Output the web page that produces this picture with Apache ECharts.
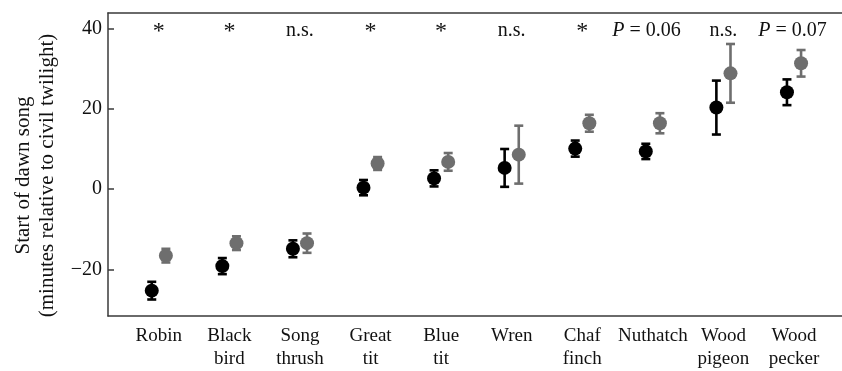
<!DOCTYPE html>
<html>
<head>
<meta charset="utf-8">
<script src="https://cdn.jsdelivr.net/npm/echarts@6/dist/echarts.min.js"></script>
<style>
html,body{margin:0;padding:0;background:#fff;}
#chart{width:842px;height:371px;}
</style>
</head>
<body>
<div id="chart"></div>
<script>
const categories = ['Robin','Black\nbird','Song\nthrush','Great\ntit','Blue\ntit','Wren','Chaf\nfinch','Nuthatch','Wood\npigeon','Wood\npecker'];
const blackMean = [-25.2,-19.1,-14.8,0.4,2.7,5.3,10.1,9.4,20.3,24.1];
const blackErr  = [2.2,2.0,2.1,1.9,2.0,4.7,2.0,1.9,6.7,3.2];
const grayMean  = [-16.5,-13.4,-13.4,6.4,6.8,8.6,16.4,16.4,28.8,31.3];
const grayErr   = [1.7,1.7,2.4,1.6,2.2,7.2,2.1,2.5,7.3,3.3];
const sigLabels = ['*','*','n.s.','*','*','n.s.','*','P = 0.06','n.s.','P = 0.07'];
const sigShift  = [0,0,0,0,0,0,0,-0.09,0,-0.02];
const yTicks = [-20,0,20,40];
const annotLevel = 37;

const FONT = '"Liberation Serif","Times New Roman",serif';
const offset = 0.1;

function errItems(mean, err, dx){
  return mean.map((m,i)=>[i+dx, m, m-err[i], m+err[i]]);
}
function errRender(color){
  return function(params, api){
    const x = api.value(0);
    const lo = api.coord([x, api.value(2)]);
    const hi = api.coord([x, api.value(3)]);
    const hw = 4.5;
    const st = {stroke: color, lineWidth: 2.6};
    return {type:'group', children:[
      {type:'line', shape:{x1:lo[0],y1:lo[1],x2:hi[0],y2:hi[1]}, style:st},
      {type:'line', shape:{x1:lo[0]-hw,y1:lo[1],x2:lo[0]+hw,y2:lo[1]}, style:st},
      {type:'line', shape:{x1:hi[0]-hw,y1:hi[1],x2:hi[0]+hw,y2:hi[1]}, style:st}
    ]};
  };
}

const chart = echarts.init(document.getElementById('chart'), null, {renderer:'canvas'});
const axisLineStyle = {color:'#3a3a3a', width:1.5};
chart.setOption({
  animation:false,
  backgroundColor:'#fff',
  grid:{left:108, right:0, top:13, bottom:50.5},
  xAxis:[{
    type:'value', min:-0.72, max:9.68, position:'bottom',
    axisLine:{show:true, onZero:false, lineStyle:axisLineStyle},
    axisTick:{show:false},
    splitLine:{show:false},
    axisLabel:{
      customValues:[0,1,2,3,4,5,6,7,8,9],
      formatter:v=>categories[Math.round(v)],
      fontFamily:FONT, fontSize:19, color:'#111', margin:9, lineHeight:23,
      verticalAlign:'top', align:'center'
    }
  },{
    type:'value', min:-0.72, max:9.68, position:'top',
    axisLine:{show:true, onZero:false, lineStyle:axisLineStyle},
    axisTick:{show:false}, axisLabel:{show:false}, splitLine:{show:false}
  }],
  yAxis:{
    type:'value', min:-31.5, max:43.8,
    axisLine:{show:true, onZero:false, lineStyle:axisLineStyle},
    axisTick:{show:true, inside:true, length:6, customValues:yTicks, lineStyle:axisLineStyle},
    splitLine:{show:false},
    axisLabel:{customValues:yTicks, fontFamily:FONT, fontSize:20, color:'#111', margin:6,
      formatter:v=>String(v).replace('-','\u2212')},
    name:'Start of dawn song\n(minutes relative to civil twilight)',
    nameLocation:'middle', nameGap:43, nameRotate:90,
    nameTextStyle:{fontFamily:FONT, fontSize:21, color:'#111', lineHeight:24, padding:[0,22,0,0]}
  },
  series:[
    {type:'custom', renderItem:errRender('#000'), data:errItems(blackMean, blackErr, -offset), z:2, silent:true},
    {type:'custom', renderItem:errRender('#6e6e6e'), data:errItems(grayMean, grayErr, offset), z:2, silent:true},
    {type:'scatter', symbol:'circle', symbolSize:14, itemStyle:{color:'#000', opacity:1},
      data:blackMean.map((m,i)=>[i-offset, m]), z:3, silent:true},
    {type:'scatter', symbol:'circle', symbolSize:14, itemStyle:{color:'#6e6e6e', opacity:1},
      data:grayMean.map((m,i)=>[i+offset, m]), z:3, silent:true},
    {type:'custom', silent:true, z:4,
      data:sigLabels.map((s,i)=>[i+sigShift[i], annotLevel]),
      renderItem:function(params, api){
        const p = api.coord([api.value(0), api.value(1)]);
        const s = sigLabels[params.dataIndex];
        const isStar = s === '*';
        const txt = s.startsWith('P') ? '{i|P} = ' + s.slice(4) : s;
        return {type:'text', x:p[0], y:p[1] + (isStar ? 3 : 0), style:{
          text:txt, fontFamily:FONT, fontSize:isStar ? 24 : 20, fill:'#111',
          align:'center', verticalAlign:'bottom',
          rich:{i:{fontStyle:'italic', fontFamily:FONT, fontSize:20, fill:'#111'}}
        }};
      }
    }
  ]
});
</script>
</body>
</html>
